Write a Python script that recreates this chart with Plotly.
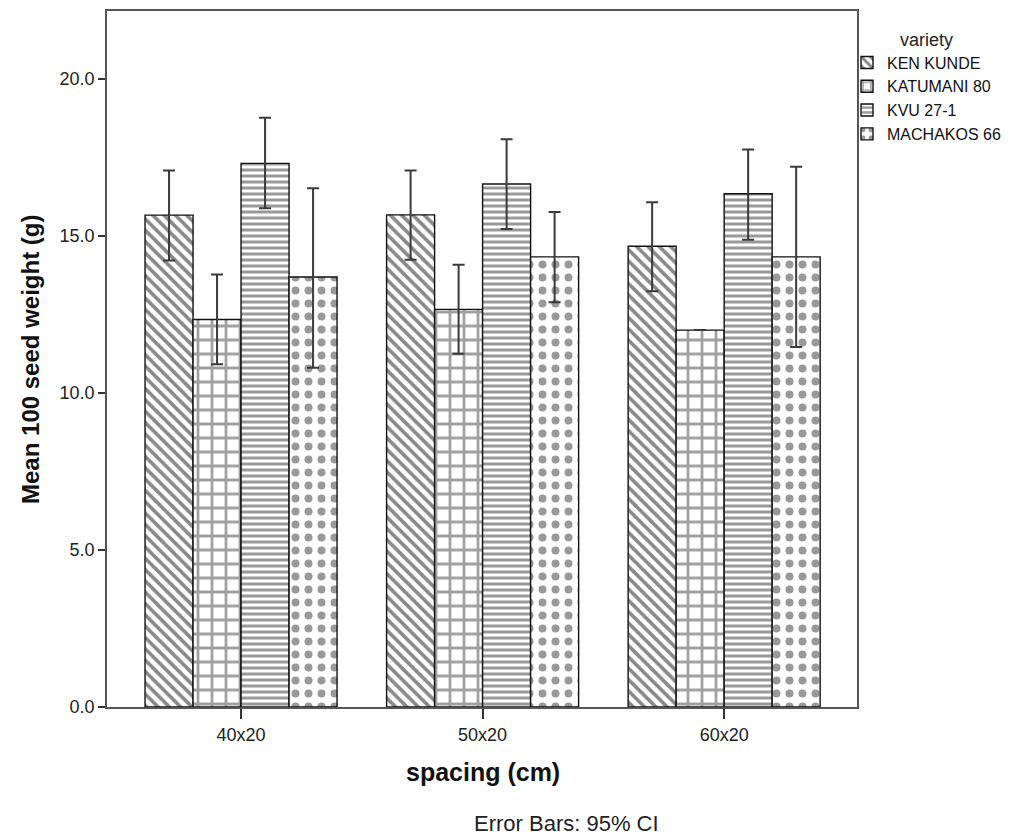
import plotly.graph_objects as go

spacing = ["40x20", "50x20", "60x20"]
varieties = ["KEN KUNDE", "KATUMANI 80", "KVU 27-1", "MACHAKOS 66"]

ken_mean = [15.66, 15.67, 14.67]
ken_hi = [17.08, 17.08, 16.07]
ken_lo = [14.22, 14.24, 13.24]

kat_mean = [12.34, 12.66, 12.00]
kat_hi = [13.77, 14.08, None]
kat_lo = [10.91, 11.25, None]

kvu_mean = [17.31, 16.65, 16.34]
kvu_hi = [18.76, 18.08, 17.75]
kvu_lo = [15.88, 15.22, 14.88]

mach_mean = [13.69, 14.33, 14.33]
mach_hi = [16.52, 15.76, 17.20]
mach_lo = [10.80, 12.89, 11.46]

y_ticks = [0, 5, 10, 15, 20]

series = [
    (varieties[0], ken_mean, ken_hi, ken_lo, dict(shape="\\", size=8, solidity=0.45, fgcolor="#111111")),
    (varieties[1], kat_mean, kat_hi, kat_lo, dict(shape="+", size=14, solidity=0.36, fgcolor="#444444")),
    (varieties[2], kvu_mean, kvu_hi, kvu_lo, dict(shape="-", size=6, solidity=0.5, fgcolor="#333333")),
    (varieties[3], mach_mean, mach_hi, mach_lo, dict(shape=".", size=13, solidity=0.3, fgcolor="#333333")),
]

FONT = "Liberation Sans, Arial, sans-serif"
xpos = list(range(len(spacing)))

fig = go.Figure()
for name, mean, hi, lo, pat in series:
    up = [None if h is None else h - m for h, m in zip(hi, mean)]
    dn = [None if l is None else m - l for l, m in zip(lo, mean)]
    fig.add_trace(go.Bar(
        name=name, x=xpos, y=mean,
        marker=dict(color="white",
                    line=dict(color="#111111", width=1.4),
                    pattern=dict(bgcolor="white", fillmode="overlay", **pat)),
        error_y=dict(type="data", symmetric=False, array=up, arrayminus=dn,
                     color="#3a3a3a", thickness=2, width=6),
    ))

fig.update_layout(
    width=1022, height=827,
    margin=dict(l=99, r=173, t=1, b=128),
    paper_bgcolor="white", plot_bgcolor="white",
    barmode="group", bargap=0.205, bargroupgap=0,
    font=dict(family=FONT, color="#222222", size=16),
    showlegend=True,
    legend=dict(
        x=0.9867, xanchor="left", y=0.984, yanchor="top",
        xref="paper", yref="paper",
        title=dict(text="variety", side="top center", font=dict(size=18, family=FONT, color="#222222")),
        font=dict(size=16, family=FONT, color="#111111"),
        itemwidth=30, tracegroupgap=0,
        bgcolor="rgba(0,0,0,0)",
    ),
    xaxis=dict(
        range=[-0.555, 2.55],
        tickmode="array", tickvals=xpos, ticktext=spacing,
        ticks="outside", ticklen=10, tickwidth=1.5, tickcolor="#333333",
        showline=True, linecolor="#555555", linewidth=1.8, mirror=True,
        showgrid=False, zeroline=False,
        tickfont=dict(size=18, family=FONT, color="#222222"),
    ),
    yaxis=dict(
        range=[0, 22.16],
        tickmode="array", tickvals=y_ticks, tickformat=".1f",
        ticks="outside", ticklen=7, tickwidth=1.5, tickcolor="#333333",
        showline=True, linecolor="#555555", linewidth=1.8, mirror=True,
        showgrid=False, zeroline=False,
        tickfont=dict(size=18, family=FONT, color="#222222"),
    ),
    annotations=[
        dict(text="<b>spacing (cm)</b>", xref="x", yref="paper",
             x=1, y=-0.093, xanchor="center", yanchor="middle", showarrow=False,
             font=dict(size=25, family=FONT, color="#111111")),
        dict(text="Error Bars: 95% CI", xref="paper", yref="paper",
             x=0.612, y=-0.167, xanchor="center", yanchor="middle", showarrow=False,
             font=dict(size=22, family=FONT, color="#222222")),
        dict(text="<b>Mean 100 seed weight (g)</b>", xref="paper", yref="paper",
             x=-0.1027, y=0.5, xanchor="center", yanchor="middle", showarrow=False,
             textangle=-90,
             font=dict(size=24, family=FONT, color="#111111")),
    ],
)

fig.write_html("out.html")
